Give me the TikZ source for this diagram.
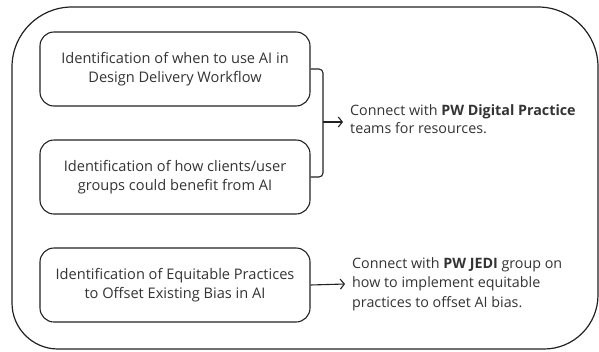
\documentclass[tikz,border=0pt]{standalone}
\usepackage{fontspec}
\setmainfont{Open Sans}
\usetikzlibrary{arrows.meta}
\definecolor{ink}{HTML}{222222}
\definecolor{txt}{HTML}{333333}
\tikzset{
  frame/.style={draw=ink, line width=1.2pt},
  idbox/.style={draw=ink, line width=1.1pt, rounded corners=14pt, minimum width=270pt,
    minimum height=74pt, align=center, text=txt, font=\fontsize{14.6}{19}\selectfont},
  note/.style={align=left, text=txt, anchor=west, inner sep=0pt},
  link/.style={draw=ink, line width=1.1pt},
  tip/.style={-{Straight Barb[length=4pt,width=10pt]}}
}
\begin{document}
\begin{tikzpicture}[x=1pt,y=-1pt]
\useasboundingbox (0,0) rectangle (599,351);
% outer frame with unequal corner radii
\draw[frame] (12,67) arc[start angle=180,end angle=270,radius=60]
  -- (538,7) arc[start angle=270,end angle=360,radius=60]
  -- (598,295) arc[start angle=0,end angle=90,radius=54]
  -- (58,349) arc[start angle=90,end angle=180,radius=46] -- cycle;
% left-hand boxes
\node[idbox] (b1) at (175,69) {Identification of when to use AI in\\Design Delivery Workflow};
\node[idbox] (b2) at (175,177) {Identification of how clients/user\\groups could benefit from AI};
\node[idbox] (b3) at (175,285) {Identification of Equitable Practices\\to Offset Existing Bias in AI};
% right-hand notes
\node[note, font=\fontsize{14.3}{18}\selectfont] (t1) at (350,119)
  {Connect with \textbf{PW Digital Practice}\\teams for resources.};
\node[note, font=\fontsize{14.3}{19.5}\selectfont] (t2) at (352,284)
  {Connect with \textbf{PW JEDI} group on\\how to implement equitable\\practices to offset AI bias.};
% bracket joining the first two boxes
\coordinate (j1) at (323,69);
\coordinate (j2) at (323,177);
\coordinate (jm) at (323,122);
\draw[link, rounded corners=4pt] (b1.east) -- (j1) -- (j2) -- (b2.east);
\draw[link, tip] (jm) -- ([xshift=-7pt]t1.west |- jm);
\draw[link, tip] (b3.east) -- ([xshift=-7pt]t2.west);
\end{tikzpicture}
\end{document}
